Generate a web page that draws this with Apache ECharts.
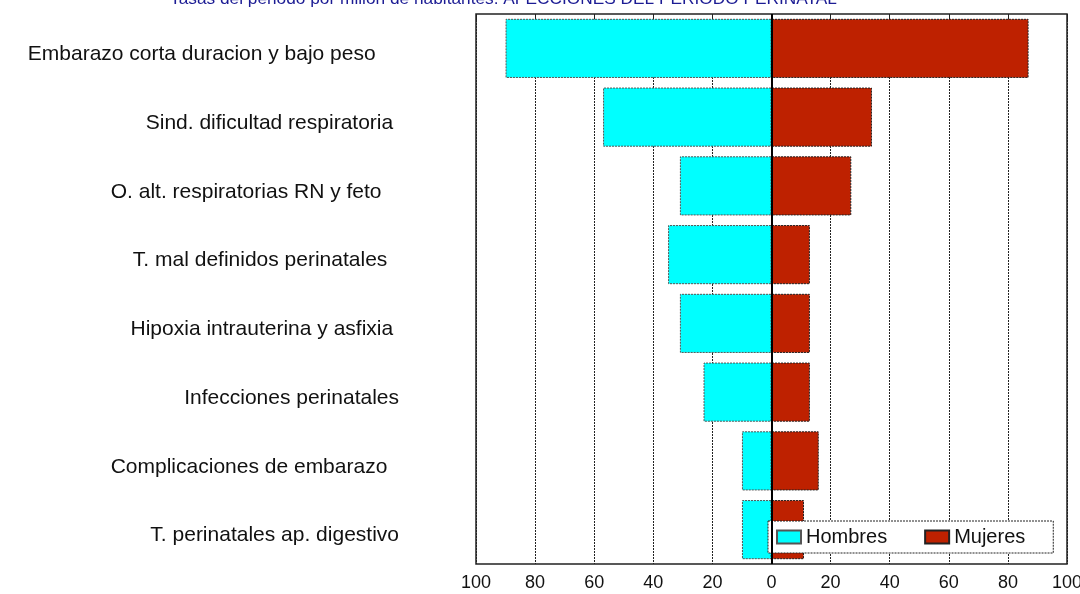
<!DOCTYPE html>
<html>
<head>
<meta charset="utf-8">
<title>Afecciones del periodo perinatal</title>
<script src="https://cdn.jsdelivr.net/npm/echarts@6/dist/echarts.min.js"></script>
<style>
  html, body { margin: 0; padding: 0; background: #fff; }
  #chart { width: 1080px; height: 594px; }
</style>
</head>
<body>
<div id="chart"></div>
<script>
// causas (con los espacios finales del original)
const causas = [
  'Embarazo corta duracion y bajo peso    ',
  'Sind. dificultad respiratoria ',
  'O. alt. respiratorias RN y feto   ',
  'T. mal definidos perinatales  ',
  'Hipoxia intrauterina y asfixia ',
  'Infecciones perinatales',
  'Complicaciones de embarazo  ',
  'T. perinatales ap. digestivo'
];
// tasas por millon de habitantes
const hombres = [90, 57, 31, 35, 31, 23, 10, 10];
const mujeres = [87, 34, 27, 13, 13, 13, 16, 11];
const ticksX = [-100, -80, -60, -40, -20, 0, 20, 40, 60, 80, 100];

const myChart = echarts.init(document.getElementById('chart'));

myChart.setOption({
  animation: false,
  textStyle: { fontFamily: 'Liberation Sans, Arial, sans-serif' },
  title: {
    text: 'Tasas del periodo por millón de habitantes. AFECCIONES DEL PERIODO PERINATAL',
    left: 165,
    top: -14,
    textStyle: { fontSize: 17.3, fontWeight: 'normal', color: '#1c1c94' }
  },
  legend: {
    left: 768,
    top: 521,
    padding: [6, 28, 6, 8],
    itemWidth: 24,
    itemHeight: 13,
    itemGap: 37,
    backgroundColor: '#fff',
    borderColor: '#222',
    borderWidth: 1,
    borderType: [2, 1],
    icon: 'rect',
    textStyle: { fontSize: 20, color: '#111' },
    data: ['Hombres', 'Mujeres']
  },
  grid: {
    left: 476,
    right: 13,
    top: 14,
    bottom: 30,
    outerBoundsMode: 'none',
    show: true,
    borderColor: '#222',
    borderWidth: 1.5
  },
  xAxis: [
    {
      type: 'value',
      min: ticksX[0],
      max: ticksX[ticksX.length - 1],
      interval: 20,
      axisLine: { show: false },
      axisTick: { show: false },
      axisLabel: {
        fontSize: 18,
        color: '#111',
        margin: 10,
        formatter: v => Math.abs(v)
      },
      splitLine: {
        show: true,
        lineStyle: { color: '#222', width: 1, type: [2, 1] }
      }
    },
    {
      type: 'value',
      position: 'top',
      min: ticksX[0],
      max: ticksX[ticksX.length - 1],
      interval: 20,
      axisLine: { show: false },
      axisTick: { show: true, inside: true, length: 6, lineStyle: { color: '#222' } },
      axisLabel: { show: false },
      splitLine: { show: false }
    }
  ],
  yAxis: {
    type: 'category',
    inverse: true,
    data: causas,
    axisLine: { show: false },
    axisTick: { show: false },
    axisLabel: {
      margin: 77,
      formatter: v => '{c|' + v + '}',
      rich: {
        c: { fontSize: 21, color: '#111', padding: [12, 0, 0, 0] }
      }
    }
  },
  series: [
    {
      name: 'Hombres',
      type: 'bar',
      stack: 'total',
      barCategoryGap: '14%',
      data: hombres.map(v => -v),
      itemStyle: { color: '#00ffff', borderColor: '#555', borderWidth: 1, borderType: [2, 1] },
      markLine: {
        silent: true,
        symbol: 'none',
        label: { show: false },
        lineStyle: { color: '#000', width: 2, type: 'solid' },
        data: [{ xAxis: 0 }]
      }
    },
    {
      name: 'Mujeres',
      type: 'bar',
      stack: 'total',
      barCategoryGap: '14%',
      data: mujeres,
      itemStyle: { color: '#be2100', borderColor: '#222', borderWidth: 1, borderType: [2, 1] }
    }
  ]
});
</script>
</body>
</html>
